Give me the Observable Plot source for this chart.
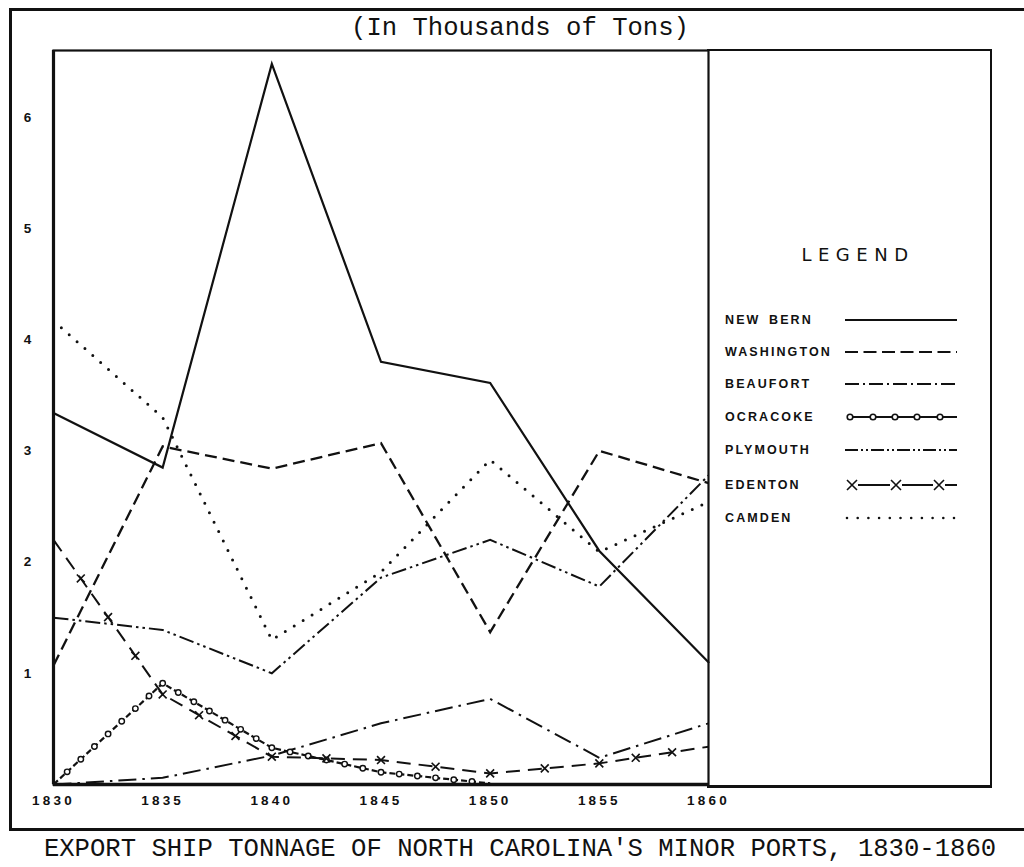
<!DOCTYPE html>
<html>
<head>
<meta charset="utf-8">
<script src="https://cdn.jsdelivr.net/npm/d3@7"></script>
<script src="https://cdn.jsdelivr.net/npm/@observablehq/plot@0.6"></script>
<style>
  html, body { margin: 0; padding: 0; background: #fff; overflow: hidden; }
  #page { position: relative; width: 1024px; height: 867px; color: #111; }
  .abs { position: absolute; }
  #outer { left: 9px; top: 8px; width: 1040px; height: 817px; border: 3px solid #111; box-sizing: content-box; }
  .mono { font-family: "Liberation Mono", "DejaVu Sans Mono", monospace; font-size: 25.6px; white-space: nowrap; color: #111; }
  #title { left: 0; width: 1040px; top: 14px; text-align: center; }
  #caption { left: 0; width: 1040px; top: 835px; text-align: center; }
  #panel { left: 707px; top: 49px; width: 283px; height: 734px; border-top: 2px solid #111; border-right: 2.5px solid #111; border-bottom: 3px solid #111; }
  #legendTitle { left: 760px; width: 196px; top: 244px; text-align: center; font-family: "DejaVu Sans", sans-serif; font-size: 18px; letter-spacing: 6.5px; }
  .lab { left: 725px; font-family: "Liberation Sans", Arial, sans-serif; font-weight: bold; font-size: 12.5px; letter-spacing: 2.1px; word-spacing: 3px; white-space: pre; line-height: 14px; }
  .sw { left: 843px; }
</style>
</head>
<body>
<div id="page">
  <div id="outer" class="abs"></div>
  <div id="title" class="abs mono">(In Thousands of Tons)</div>
  <div id="chart" class="abs" style="left:0;top:0"></div>
  <div id="panel" class="abs"></div>
  <div id="legendTitle" class="abs">LEGEND</div>
  <div id="legend"></div>
  <div id="caption" class="abs mono">EXPORT SHIP TONNAGE OF NORTH CAROLINA'S MINOR PORTS, 1830-1860</div>
</div>
<script>
// ---- data (thousands of tons) ----
const years = [1830, 1835, 1840, 1845, 1850, 1855, 1860];
const newBern    = [3.34, 2.85, 6.48, 3.80, 3.61, 2.10, 1.10];
const washington = [1.07, 3.04, 2.84, 3.07, 1.37, 3.00, 2.71];
const beaufort   = [0.00, 0.06, 0.26, 0.55, 0.77, 0.24, 0.55];
const ocracoke   = [0.00, 0.91, 0.33, 0.11, 0.01, null, null];
const plymouth   = [1.50, 1.39, 1.00, 1.86, 2.20, 1.78, 2.78];
const edenton    = [2.20, 0.81, 0.25, 0.22, 0.10, 0.19, 0.34];
const camden     = [4.17, 3.30, 1.30, 1.91, 2.92, 2.09, 2.54];
const seriesNames = ["NEW BERN", "WASHINGTON", "BEAUFORT", "OCRACOKE", "PLYMOUTH", "EDENTON", "CAMDEN"];
const seriesValues = [newBern, washington, beaufort, ocracoke, plymouth, edenton, camden];
const xTicks = [1830, 1835, 1840, 1845, 1850, 1855, 1860];
const yTicks = [1, 2, 3, 4, 5, 6];

// ---- styles ----
const ink = "#111";
const styles = {
  "NEW BERN":   {strokeWidth: 2.2, strokeDasharray: null, cap: "round"},
  "WASHINGTON": {strokeWidth: 2.3, strokeDasharray: "12,6", cap: "butt"},
  "BEAUFORT":   {strokeWidth: 2,   strokeDasharray: "18,6,2.5,6", cap: "butt"},
  "OCRACOKE":   {strokeWidth: 2.2, strokeDasharray: "6,3", cap: "butt", marker: "mk-o", step: 18.5},
  "PLYMOUTH":   {strokeWidth: 2,   strokeDasharray: "15,4,2.5,4,2.5,4", cap: "butt"},
  "EDENTON":    {strokeWidth: 2,   strokeDasharray: "14,8", cap: "butt", marker: "mk-x", step: 44},
  "CAMDEN":     {strokeWidth: 3,   strokeDasharray: "0,10.5", cap: "round"}
};

// a linear curve that splits each segment into equal pieces (for mid markers)
function subdivided(step) {
  return (context) => {
    let x0, y0, first;
    return {
      areaStart() {}, areaEnd() {},
      lineStart() { first = true; },
      lineEnd() {},
      point(x, y) {
        x = +x; y = +y;
        if (first) { context.moveTo(x, y); first = false; }
        else {
          const n = Math.max(1, Math.round(Math.hypot(x - x0, y - y0) / step));
          for (let i = 1; i <= n; i++) context.lineTo(x0 + (x - x0) * i / n, y0 + (y - y0) * i / n);
        }
        x0 = x; y0 = y;
      }
    };
  };
}

const lineMarks = seriesNames.map((name, k) => {
  const s = styles[name];
  const rows = years.map((year, i) => ({year, value: seriesValues[k][i]}));
  const opts = {
    x: "year", y: "value",
    stroke: ink, strokeWidth: s.strokeWidth,
    strokeLinecap: s.cap, strokeLinejoin: "miter", strokeMiterlimit: 4,
    curve: s.step ? subdivided(s.step) : "linear"
  };
  if (s.strokeDasharray) opts.strokeDasharray = s.strokeDasharray;
  return Plot.line(rows, opts);
});

const chart = Plot.plot({
  width: 1024, height: 815,
  marginLeft: 53, marginRight: 316, marginTop: 50, marginBottom: 31,
  x: {domain: [1830, 1860], ticks: xTicks, tickFormat: d => String(d), tickSize: 0, tickPadding: 11, label: null},
  y: {domain: [0, 6.6], ticks: yTicks, tickFormat: d => String(d), tickSize: 0, tickPadding: 19, label: null},
  style: {fontFamily: "'Liberation Sans', Arial, sans-serif", fontSize: "13.5px", fontWeight: "bold", letterSpacing: "3.2px", color: ink, background: "transparent", overflow: "visible"},
  marks: [
    ...lineMarks,
    Plot.frame({stroke: ink, strokeWidth: 2.2}),
    Plot.ruleX([1830], {stroke: ink, strokeWidth: 3.2}),
    Plot.ruleY([0], {stroke: ink, strokeWidth: 3.4})
  ]
});

// markers for the patterned series
const ns = "http://www.w3.org/2000/svg";
const defs = document.createElementNS(ns, "defs");
defs.innerHTML =
  '<marker id="mk-o" viewBox="-5 -5 10 10" markerWidth="8.5" markerHeight="8.5" markerUnits="userSpaceOnUse" orient="0">' +
  '<circle r="3.2" fill="#fff" stroke="' + ink + '" stroke-width="1.7" stroke-dasharray="none"/></marker>' +
  '<marker id="mk-x" viewBox="-6 -6 12 12" markerWidth="11" markerHeight="11" markerUnits="userSpaceOnUse" orient="0">' +
  '<path d="M-4.3,-4.3L4.3,4.3M4.3,-4.3L-4.3,4.3" fill="none" stroke="' + ink + '" stroke-width="1.8" stroke-dasharray="none"/></marker>';
chart.insertBefore(defs, chart.firstChild);
const groups = chart.querySelectorAll('g[aria-label="line"]');
seriesNames.forEach((name, k) => {
  const s = styles[name];
  if (s.marker && groups[k]) groups[k].querySelectorAll("path").forEach(p => p.setAttribute("marker-mid", "url(#" + s.marker + ")"));
});
document.getElementById("chart").appendChild(chart);

// ---- legend ----
const legendY = [320, 352, 384, 417, 450, 485, 518];
const legend = document.getElementById("legend");
seriesNames.forEach((name, k) => {
  const lab = document.createElement("div");
  lab.className = "abs lab";
  lab.style.top = (legendY[k] - 7) + "px";
  lab.textContent = name;
  legend.appendChild(lab);
  const w = 116, h = 14, cy = 7;
  let inner = "";
  if (name === "OCRACOKE") {
    inner += `<path d="M4,${cy}H114" stroke="${ink}" stroke-width="1.8" fill="none"/>`;
    [7, 30, 52, 74, 97].forEach(cx => inner += `<circle cx="${cx}" cy="${cy}" r="2.8" fill="#fff" stroke="${ink}" stroke-width="1.6"/>`);
  } else if (name === "EDENTON") {
    inner += `<path d="M15,${cy}H47M59,${cy}H90M102,${cy}H114" stroke="${ink}" stroke-width="1.8" fill="none"/>`;
    [9, 53, 96].forEach(cx => inner += `<path d="M${cx-5},${cy-5}L${cx+5},${cy+5}M${cx+5},${cy-5}L${cx-5},${cy+5}" stroke="${ink}" stroke-width="1.6" fill="none"/>`);
  } else {
    const sw = name === "CAMDEN" ? 2.6 : 1.8;
    const dash = name === "WASHINGTON" ? "13,5.5" : name === "BEAUFORT" ? "14,4,2,4" : name === "PLYMOUTH" ? "13,3,2,3,2,3" : name === "CAMDEN" ? "0,10.7" : "none";
    const x0 = name === "CAMDEN" ? 4 : 2;
    inner += `<path d="M${x0},${cy}H114" stroke="${ink}" stroke-width="${sw}" stroke-dasharray="${dash}" stroke-linecap="${name === "CAMDEN" ? "round" : "butt"}" fill="none"/>`;
  }
  const sv = document.createElement("div");
  sv.className = "abs sw";
  sv.style.top = (legendY[k] - cy) + "px";
  sv.innerHTML = `<svg width="${w}" height="${h}" style="display:block">${inner}</svg>`;
  legend.appendChild(sv);
});
</script>
</body>
</html>
